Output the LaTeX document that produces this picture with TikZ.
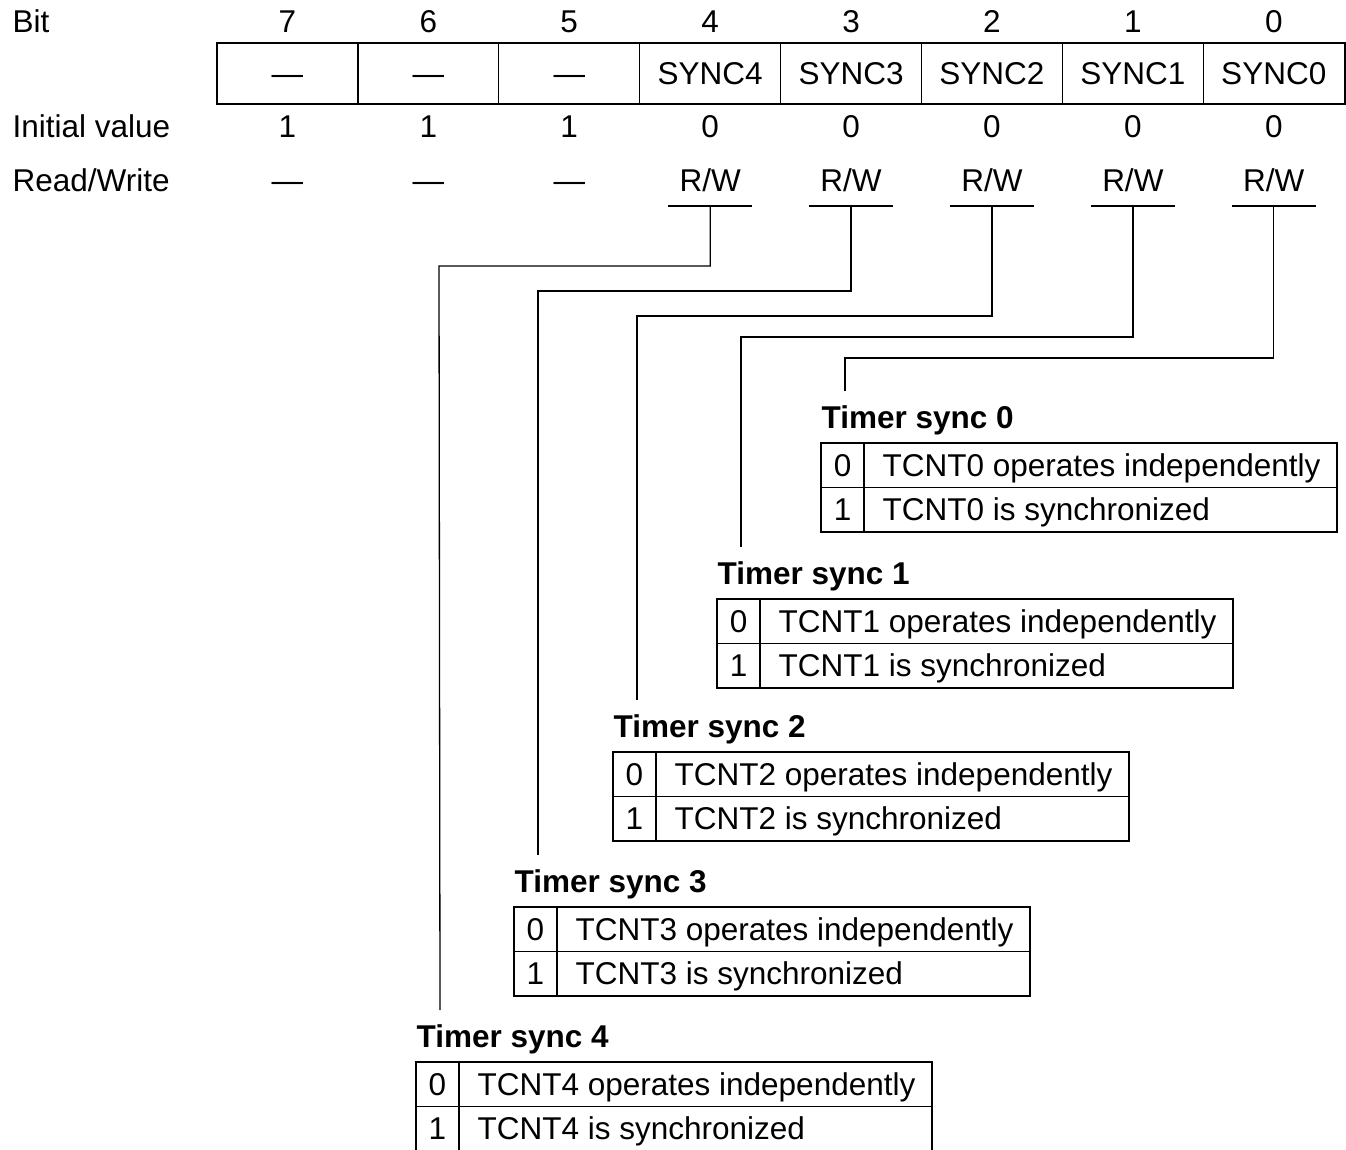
\documentclass[tikz,border=0pt]{standalone}
\usepackage{fontspec}
\setmainfont{Liberation Sans}
\begin{document}
\begin{tikzpicture}[x=1pt,y=-1pt,
  line width=1.3pt,
  every node/.style={inner sep=0pt, font=\fontsize{31.5}{36}\selectfont},
  lbl/.style={anchor=base},
  lblw/.style={anchor=base west},
  ttl/.style={anchor=base west, font=\fontsize{31.5}{36}\selectfont\bfseries},
  conn/.style={line width=1.3pt}]
\useasboundingbox (0,0) rectangle (1346,1150);

% row labels
\node[lblw] (bitlbl) at (12,33) {Bit};
\node[lblw] (initlbl) at (12,138) {Initial value};
\node[lblw] (rwlbl) at (12,192) {Read/Write};

% register frame
\draw (217,43) rectangle (1345,104);
\foreach \k in {1,...,7}{
  \draw ({217+140.9*\k},43) -- ({217+140.9*\k},104);
}

% bit columns 7..5
\foreach \k/\b in {0/7,1/6,2/5}{
  \pgfmathsetmacro\cx{217+140.9*(\k+0.5)}
  \node[lbl] (bit\b) at (\cx,33) {\b};
  \node[lbl] (reg\b) at (\cx,85) {—};
  \node[lbl] (init\b) at (\cx,138) {1};
  \node[lbl] (rw\b) at (\cx,192) {—};
}
% bit columns 4..0
\foreach \k/\b in {3/4,4/3,5/2,6/1,7/0}{
  \pgfmathsetmacro\cx{217+140.9*(\k+0.5)}
  \node[lbl] (bit\b) at (\cx,33) {\b};
  \node[lbl] (reg\b) at (\cx,85) {SYNC\b};
  \node[lbl] (init\b) at (\cx,138) {0};
  \node[lbl] (rw\b) at (\cx,192) {R/W};
  \draw[conn] ({\cx-42},206) -- ({\cx+42},206);
  \coordinate (s\b) at (\cx,206);
}

% tables
\foreach \i/\L/\T in {0/821/443, 1/717/599, 2/613/752, 3/514/907, 4/416/1062}{
  \node[ttl] (t\i) at (\L,{\T-15}) {Timer sync \i};
  \draw (\L,\T) rectangle ({\L+516},{\T+89});
  \draw (\L,{\T+44.5}) -- ({\L+516},{\T+44.5});
  \draw ({\L+43},\T) -- ({\L+43},{\T+89});
  \node[lbl] (v0\i) at ({\L+21.5},{\T+33}) {0};
  \node[lbl] (v1\i) at ({\L+21.5},{\T+77.5}) {1};
  \node[lblw] (d0\i) at ({\L+61},{\T+33}) {TCNT\i\ operates independently};
  \node[lblw] (d1\i) at ({\L+61},{\T+77.5}) {TCNT\i\ is synchronized};
  \coordinate (e\i) at ({\L+24},{\T-52});
}

% connectors
\draw[conn] (s4) |- (439,266) -- (e4);
\draw[conn] (s3) |- (538,291) -- (e3);
\draw[conn] (s2) |- (637,316) -- (e2);
\draw[conn] (s1) |- (741,337) -- (e1);
\draw[conn] (s0) |- (845,358) -- (e0);
\end{tikzpicture}
\end{document}
